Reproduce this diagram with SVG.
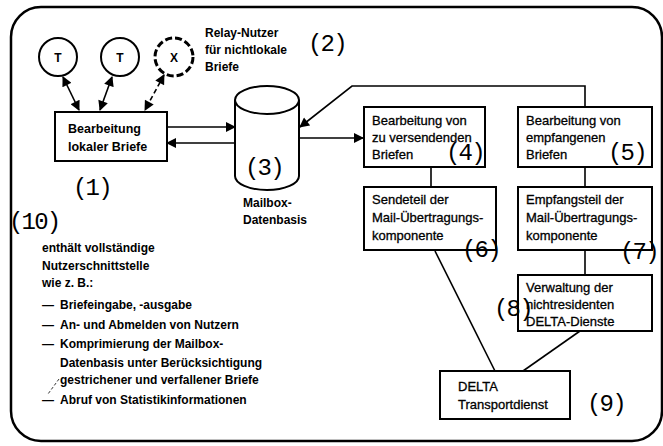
<svg xmlns="http://www.w3.org/2000/svg" width="663" height="446" viewBox="0 0 663 446">
<defs>
<marker id="ah" viewBox="0 0 10 10" refX="9" refY="5" markerWidth="11" markerHeight="10" markerUnits="userSpaceOnUse" orient="auto-start-reverse">
<path d="M0,0 L10,5 L0,10 z" fill="#000"/>
</marker>
<style>
.box{fill:#fff;stroke:#000;stroke-width:2}
.ln{fill:none;stroke:#000;stroke-width:1.6}
.b{font-family:"Liberation Sans",Arial,sans-serif;font-weight:bold;fill:#000}
.r{font-family:"Liberation Sans",Arial,sans-serif;font-size:13px;fill:#000;stroke:#000;stroke-width:0.3}
.n{font-family:"Liberation Mono","Courier New",monospace;font-size:24px;letter-spacing:-1.8px;fill:#000}
</style>
</defs>
<rect width="663" height="446" fill="#fff"/>
<rect x="11" y="7" width="651" height="434" rx="30" ry="30" fill="none" stroke="#000" stroke-width="2.5"/>

<g id="connectors">
<line class="ln" x1="63" y1="77" x2="79" y2="110" marker-start="url(#ah)" marker-end="url(#ah)"/>
<line class="ln" x1="112" y1="77" x2="100" y2="110" marker-start="url(#ah)" marker-end="url(#ah)"/>
<line class="ln" x1="164" y1="75" x2="145" y2="110" stroke-dasharray="5 3" marker-start="url(#ah)" marker-end="url(#ah)"/>
<line class="ln" x1="167" y1="127" x2="235" y2="127" marker-end="url(#ah)"/>
<line class="ln" x1="235" y1="143" x2="167" y2="143" marker-end="url(#ah)"/>
<line class="ln" x1="299" y1="138" x2="363" y2="138" marker-end="url(#ah)"/>
<path class="ln" d="M585,107 V86 H352 L300,127" marker-end="url(#ah)"/>
<line class="ln" x1="431" y1="167" x2="431" y2="187"/>
<line class="ln" x1="585" y1="167" x2="585" y2="187"/>
<line class="ln" x1="585" y1="250" x2="585" y2="275"/>
<line class="ln" x1="435" y1="251" x2="495" y2="371"/>
<line class="ln" x1="580" y1="331" x2="523" y2="371"/>
<line x1="59" y1="379" x2="48" y2="394" stroke="#000" stroke-width="0.8" stroke-dasharray="3 2"/>
</g>

<g id="t1">
<circle cx="58" cy="57" r="19" fill="#fff" stroke="#000" stroke-width="2"/>
<text class="b" x="58" y="62" font-size="12" text-anchor="middle">T</text>
</g>
<g id="t2">
<circle cx="120" cy="57" r="19" fill="#fff" stroke="#000" stroke-width="2"/>
<text class="b" x="120" y="62" font-size="12" text-anchor="middle">T</text>
</g>
<g id="x">
<circle cx="174" cy="57" r="19" fill="#fff" stroke="#000" stroke-width="3" stroke-dasharray="7 3"/>
<text class="b" x="174" y="62" font-size="12" text-anchor="middle">X</text>
</g>
<g id="relay">
<text class="b" font-size="12"><tspan x="205" y="37">Relay-Nutzer</tspan><tspan x="205" y="54">für nichtlokale</tspan><tspan x="205" y="71">Briefe</tspan></text>
<text class="n" x="308" y="51">(2)</text>
</g>

<g id="n1">
<rect class="box" x="55" y="112" width="112" height="49"/>
<text class="b" font-size="12.5"><tspan x="68" y="133">Bearbeitung</tspan><tspan x="68" y="151">lokaler Briefe</tspan></text>
<text class="n" x="73" y="195">(1)</text>
</g>

<g id="n3">
<path d="M235,100 V176 A32,14 0 0 0 299,176 V100" fill="#fff" stroke="#000" stroke-width="2"/>
<ellipse cx="267" cy="100" rx="32" ry="14" fill="#fff" stroke="#000" stroke-width="2"/>
<text class="n" x="245" y="175">(3)</text>
<text class="b" font-size="12"><tspan x="243" y="207">Mailbox-</tspan><tspan x="243" y="224">Datenbasis</tspan></text>
</g>

<g id="n4">
<rect class="box" x="364" y="107" width="121" height="60"/>
<text class="r"><tspan x="372" y="125">Bearbeitung von</tspan><tspan x="372" y="142">zu versendenden</tspan><tspan x="372" y="159">Briefen</tspan></text>
<text class="n" x="446" y="160">(4)</text>
</g>

<g id="n5">
<rect class="box" x="518" y="107" width="134" height="60"/>
<text class="r"><tspan x="526" y="125">Bearbeitung von</tspan><tspan x="526" y="142">empfangenen</tspan><tspan x="526" y="159">Briefen</tspan></text>
<text class="n" x="608" y="160">(5)</text>
</g>

<g id="n6">
<rect class="box" x="364" y="187" width="132" height="63"/>
<text class="r"><tspan x="372" y="204">Sendeteil der</tspan><tspan x="372" y="222">Mail-Übertragungs-</tspan><tspan x="372" y="240">komponente</tspan></text>
<text class="n" x="462" y="257">(6)</text>
</g>

<g id="n7">
<rect class="box" x="518" y="187" width="134" height="63"/>
<text class="r"><tspan x="526" y="204">Empfangsteil der</tspan><tspan x="526" y="222">Mail-Übertragungs-</tspan><tspan x="526" y="240">komponente</tspan></text>
<text class="n" x="620" y="259">(7)</text>
</g>

<g id="n8">
<rect class="box" x="518" y="275" width="134" height="56"/>
<text class="r"><tspan x="526" y="292">Verwaltung der</tspan><tspan x="526" y="309">nichtresidenten</tspan><tspan x="526" y="326">DELTA-Dienste</tspan></text>
<text class="n" x="494" y="316">(8)</text>
</g>

<g id="n9">
<rect class="box" x="440" y="371" width="130" height="48"/>
<text class="r"><tspan x="458" y="391">DELTA</tspan><tspan x="458" y="409">Transportdienst</tspan></text>
<text class="n" x="587" y="411">(9)</text>
</g>

<g id="n10">
<text class="n" x="9" y="229">(10)</text>
<text class="b" font-size="12"><tspan x="42" y="252">enthält vollständige</tspan><tspan x="42" y="270">Nutzerschnittstelle</tspan><tspan x="42" y="287">wie z. B.:</tspan><tspan x="42" y="309">—</tspan><tspan x="60" y="309">Briefeingabe, -ausgabe</tspan><tspan x="42" y="329">—</tspan><tspan x="60" y="329">An- und Abmelden von Nutzern</tspan><tspan x="42" y="348">—</tspan><tspan x="60" y="348">Komprimierung der Mailbox-</tspan><tspan x="60" y="367">Datenbasis unter Berücksichtigung</tspan><tspan x="60" y="384">gestrichener und verfallener Briefe</tspan><tspan x="42" y="404">—</tspan><tspan x="60" y="404">Abruf von Statistikinformationen</tspan></text>
</g>
</svg>
